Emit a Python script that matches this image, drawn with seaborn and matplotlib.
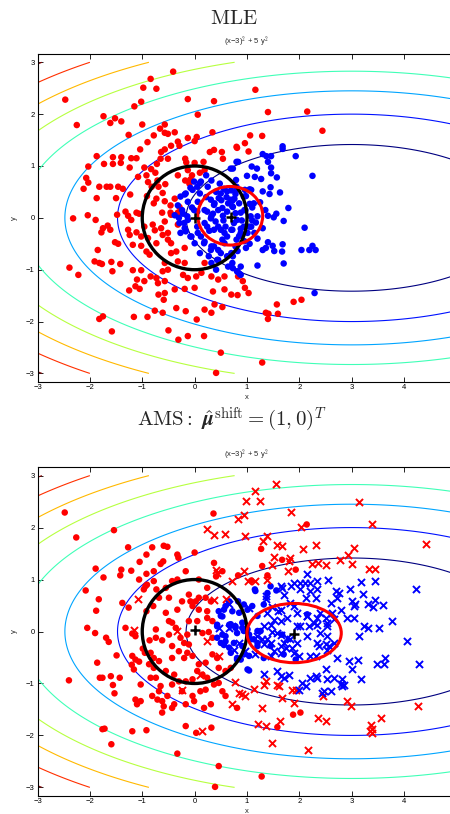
import numpy as np
import pandas as pd
import matplotlib
matplotlib.use("Agg")
import matplotlib.pyplot as plt
import seaborn as sns
from matplotlib.patches import Ellipse

# ---------------- data ----------------
contour_levels = [10, 20, 30, 40, 50, 60, 70, 80]
xticks = [-3, -2, -1, 0, 1, 2, 3, 4]
yticks = [-3, -2, -1, 0, 1, 2, 3]

top_red = [
(-2.47,2.28),(-2.25,1.79),(-1.74,1.96),(-1.61,1.83),(-1.52,1.92),(-1.40,1.86),(-1.26,1.60),(-1.15,2.15),(-1.02,2.24),(-0.98,2.51),(-0.84,2.68),(-0.73,2.49),(-0.41,2.82),(-0.13,2.29),(0.06,1.99),(0.37,2.25),
(-1.00,1.80),(-0.57,1.80),(-0.66,1.72),(-0.57,1.64),(-0.51,1.62),(-0.78,1.59),(-0.90,1.46),(-0.38,1.65),(-0.32,1.47),(-0.29,1.39),(-0.13,1.54),(0.00,1.48),(0.04,1.56),(0.34,1.65),
(-1.04,1.32),(-1.11,1.15),(-1.87,1.19),(-2.03,0.99),(-2.07,0.77),(-2.03,0.68),(-2.12,0.56),(-1.87,0.38),(-1.82,0.60),(-1.73,1.04),(-1.56,1.17),(-1.56,1.04),(-1.40,1.17),(-1.41,1.06),(-1.21,1.15),(-1.24,0.97),(-0.96,0.97),(-0.72,1.04),(-0.83,0.94),(-0.64,1.27),(-0.57,1.32),(-0.65,1.14),(-0.51,1.14),(-0.45,1.39),(-0.18,1.14),(-0.16,1.07),(0.00,1.06),(0.17,1.08),(0.29,1.27),(0.37,1.31),(0.52,1.27),(0.54,1.14),(0.81,1.35),
(-1.61,0.60),(-1.68,0.60),(-1.46,0.60),(-1.37,0.56),(-1.23,0.45),(-1.50,0.38),(-1.08,0.79),(-0.92,0.82),(-0.89,0.69),(-0.75,0.87),(-0.71,0.72),(-0.69,0.60),(-0.56,0.65),(-0.61,0.48),(-0.82,0.60),(-0.91,0.42),(-0.73,0.37),(-0.57,0.32),(-0.38,0.37),(-0.46,0.24),(-0.29,0.21),(-0.32,0.82),(-0.18,0.72),(-0.08,0.74),(-0.05,0.82),(0.10,0.87),(0.19,0.92),(-0.13,0.92),(-0.10,0.66),
(-1.27,0.04),(-1.06,0.08),(-0.78,0.28),(-0.62,0.10),(-0.46,0.10),(-1.32,0.12),(-2.04,0.05),(-2.32,-0.01),(-0.32,0.10),
(1.16,2.47),(1.40,2.04),(2.15,2.05),(2.44,1.68),(1.06,1.59),(1.29,1.58),(0.80,1.37),(0.96,1.44),(1.03,1.28),
(-1.89,-0.04),(-1.66,-0.15),(-1.75,-0.20),(-1.78,-0.28),(-1.61,-0.23),(-1.48,0.06),(-1.21,-0.04),(-1.11,0.10),(-1.27,-0.23),(-1.11,-0.28),(-1.24,-0.33),(-1.52,-0.47),(-1.46,-0.50),(-1.85,-0.62),(-1.18,-0.52),(-1.02,-0.54),(-0.92,-0.65),(-0.86,-0.71),(-0.96,-0.17),(-0.80,-0.13),(-0.76,-0.24),(-0.64,-0.20),(-0.61,-0.33),(-0.51,-0.29),(-0.51,-0.42),(-0.45,-0.49),(-0.57,-0.07),(-0.45,0.06),(-0.32,-0.13),(-0.73,-0.49),(-1.02,-0.36),(-0.89,-0.39),
(-1.91,-0.84),(-1.82,-0.87),(-1.77,-0.89),(-1.59,-0.85),(-1.42,-0.89),(-2.39,-0.96),(-2.22,-1.10),(-1.57,-1.03),(-1.18,-1.01),(-1.02,-1.01),(-1.10,-1.19),(-0.96,-1.22),(-1.13,-1.32),(-1.05,-1.37),(-1.25,-1.40),(-0.84,-1.13),(-0.73,-1.16),(-0.70,-1.26),(-0.57,-1.22),(-0.69,-1.48),(-0.59,-1.58),(-0.57,-1.45),(-0.38,-1.38),(-0.19,-1.37),(0.00,-1.35),(-0.35,-1.74),(-0.17,-1.80),(0.04,-1.96),(0.19,-1.77),(0.32,-1.83),(-1.16,-1.91),(-0.90,-1.91),(-0.76,-1.79),(-0.61,-1.83),(-1.82,-1.95),(-1.75,-1.90),(-1.58,-2.19),(-0.50,-2.17),(-0.31,-2.35),(-0.13,-2.28),(0.18,-2.28),(0.50,-2.60),(0.41,-2.99),(0.38,-1.67),(0.53,-1.72),(0.32,-1.13),(0.45,-1.19),(0.57,-1.13),(0.83,-1.13),(0.03,-1.13),(0.13,-1.06),(0.19,-0.87),(-0.32,-0.84),(-0.19,-0.87),(-0.57,-0.87),(-0.45,-0.68),(-0.19,-0.58),(-0.35,-0.65),(-0.61,-1.03),(-0.51,-1.00),(-0.22,-1.10),(-0.13,-1.16),(0.35,-1.42),(0.70,-1.48),(0.57,-1.38),
(0.92,-1.22),(0.96,-1.35),(1.03,-1.45),(0.82,-1.49),(1.57,-1.67),(1.89,-1.62),(2.04,-1.58),(1.36,-1.83),(1.41,-1.85),(1.40,-1.95),(1.59,-1.85),(1.29,-2.79),
]

top_blue = [
(-0.19,0.45),(-0.08,0.58),(0.10,0.67),(0.22,0.82),(0.32,0.72),(0.48,0.66),(0.56,0.56),(0.70,0.53),(0.80,0.60),(0.69,0.95),(0.80,1.08),(0.10,0.47),(0.22,0.40),(0.38,0.28),(0.51,0.34),(0.64,0.28),(0.73,0.21),(0.19,0.15),(0.35,0.08),(0.45,0.15),(0.54,0.04),(0.06,0.31),(-0.13,0.31),(-0.32,0.24),(-0.22,0.08),(-0.38,0.05),(0.25,0.60),(0.41,0.50),(0.61,0.40),(0.76,0.37),
(1.68,1.38),(1.68,1.33),(1.93,1.19),(1.30,1.23),(1.37,1.19),(1.46,1.19),(0.83,1.08),(1.40,1.08),(1.09,0.99),(1.19,0.95),(1.46,0.97),(0.73,0.95),(1.46,0.86),(1.57,0.78),(1.00,0.81),(1.15,0.79),(1.27,0.75),(2.25,0.81),(0.79,0.73),(1.05,0.55),(1.08,0.54),(0.96,0.54),(1.45,0.59),(1.30,0.51),(1.43,0.46),(1.63,0.49),(0.78,0.46),(0.98,0.42),(0.72,0.33),(1.05,0.27),(1.79,0.19),(1.56,0.08),(1.40,0.04),(1.51,0.01),(1.20,0.03),
(1.70,-0.06),(2.10,-0.19),(1.17,-0.09),(1.08,-0.17),(0.88,-0.21),(1.01,-0.29),(1.14,-0.29),(1.40,-0.47),(1.49,-0.54),(1.52,-0.64),(1.67,-0.65),(1.68,-0.51),(1.30,-0.62),(1.36,-0.58),(2.04,-0.62),(2.19,-0.62),(2.25,-0.54),(2.31,-0.62),(0.98,-0.58),(0.82,-0.64),(0.73,-0.74),(1.20,-0.92),(1.70,-0.88),(0.88,-0.94),(0.82,-1.04),(0.86,-1.08),(0.73,-0.97),(2.29,-1.45),
(-0.29,-0.10),(-0.19,-0.20),(-0.13,-0.04),(-0.06,-0.36),(0.00,-0.49),(0.06,-0.29),(0.19,-0.46),(0.32,-0.55),(0.45,-0.62),(0.57,-0.49),(0.70,-0.68),(0.45,-0.81),(0.64,-0.94),(0.32,-0.87),(0.19,-0.10),(0.32,0.03),(0.45,-0.17),(0.57,-0.29),(0.70,-0.23),(0.80,-0.42),(0.41,-1.00),(0.10,-0.68),
(0.75,-0.10),(0.85,-0.35),(0.95,-0.45),(1.05,-0.50),(0.90,-0.05),(0.78,-0.55),(1.20,-0.40),(1.30,-0.20),(1.10,-0.05),(0.95,0.15),(1.10,0.20),(1.25,0.30),(1.35,0.15),(0.55,-0.05),(0.62,0.12),(0.28,-0.25),(0.05,0.12),(-0.05,0.20),(0.88,0.10),
(0.31,0.35),(0.37,0.25),(0.46,0.38),(0.53,0.19),(0.24,0.12),(0.31,-0.01),(0.40,-0.07),(0.50,-0.23),(0.59,-0.17),(0.69,0.35),(0.72,0.22),(0.78,0.09),(0.81,-0.04),(0.72,-0.23),(0.62,-0.36),(0.53,-0.42),(0.37,-0.23),(0.24,-0.17),(0.88,-0.29),(0.94,-0.17),(0.85,0.28),(0.94,0.41),(0.78,0.51),(0.62,0.51),(0.50,0.47),(0.97,0.15),(1.07,0.03),(1.04,-0.17),(1.13,0.28),
(-0.27,0.41),(-0.17,0.47),(-0.04,0.54),(0.05,0.60),(0.12,0.70),(-0.01,0.70),(-0.14,0.03),(-0.20,-0.10),(-0.17,-0.26),(-0.08,-0.36),(-0.27,-0.29),(-0.30,0.00),(-0.24,0.15),(-0.01,0.15),(0.05,-0.17),(0.12,-0.36),(0.18,-0.49),(0.31,-0.62),(0.37,-0.55),(0.50,-0.68),(0.62,-0.74),(0.72,-0.87),(0.81,-1.03),(0.88,-1.10),(0.43,-0.81),(0.27,-0.74),
]

bot_red_dot = [
(-2.48,2.29),(-2.26,1.81),(-1.54,1.95),(0.36,2.27),(-1.27,1.62),(-0.81,1.62),(-0.59,1.65),(-0.52,1.63),(-0.33,1.48),(-0.31,1.42),(0.00,1.52),(-0.92,1.48),(-1.05,1.34),(-0.65,1.30),(-0.60,1.35),(-1.89,1.21),(-1.74,1.04),(-1.40,1.19),(-1.42,1.08),(-1.21,1.17),(-2.08,0.79),(-1.83,0.62),(-1.88,0.40),(-2.05,0.07),(-1.90,-0.03),
(-1.38,0.55),(-1.26,0.46),(-1.32,0.07),(-1.06,1.00),(-0.92,1.11),(-0.78,1.16),(-0.91,0.90),(-0.78,0.97),(-0.97,0.81),(-0.94,0.87),(-0.73,0.81),(-0.55,0.84),(-0.43,0.97),(-0.33,1.00),(-0.17,1.16),(0.08,1.00),(0.24,0.84),(0.37,1.32),(0.41,1.06),(0.53,1.16),(-0.49,0.65),(-0.68,0.65),(-0.79,0.49),(-0.92,0.39),(-0.55,0.36),(-0.33,0.42),(-0.24,0.58),(-0.11,0.71),(-0.08,0.58),(0.02,0.58),(0.08,0.65),(-0.04,0.49),(0.08,0.42),(0.21,0.65),(0.31,0.58),(0.24,0.39),(-0.49,0.20),(-0.43,0.17),(-0.36,0.07),(-0.74,0.04),(-0.11,0.20),(0.05,0.20),(0.24,0.26),(0.34,0.20),
(2.14,2.06),(1.27,1.59),(1.67,1.38),(1.29,1.26),(1.93,1.19),(0.83,1.08),(1.39,1.08),(1.08,0.98),
(-1.69,-0.12),(-1.64,-0.20),(-1.86,-0.60),(-1.49,-0.46),(-2.40,-0.94),(-1.81,-0.89),(-1.76,-0.89),(-1.60,-0.86),(-1.56,-1.03),(-1.43,-0.89),(-1.53,-1.19),(-1.19,-0.04),(-1.13,-0.09),(-1.19,-0.47),(-1.13,-0.54),(-1.06,-0.58),(-1.20,-0.64),(-1.16,-0.73),(-0.86,-0.17),(-0.74,-0.12),(-0.62,-0.17),(-0.49,-0.06),(-0.99,-0.33),(-0.95,-0.41),(-0.84,-0.41),(-0.78,-0.51),(-0.68,-0.57),(-0.87,-0.63),(-0.78,-0.70),(-0.84,-0.89),(-1.03,-1.02),(-1.13,-1.31),(-1.10,-1.40),(-1.03,-1.34),(-1.19,-1.92),(-0.92,-1.90),(-1.76,-1.88),(-1.72,-1.87),(-1.59,-2.17),(-0.62,-1.56),(-0.59,-1.44),(-0.62,-1.34),(-0.68,-1.15),(-0.52,-1.24),(-0.39,-1.40),(-0.43,-1.47),(-0.17,-1.40),(-0.01,-1.34),(0.18,-1.47),(0.31,-1.40),(-0.33,-2.35),(-0.17,-1.82),(0.03,-1.95),(0.32,-1.85),(0.46,-2.59),(0.39,-2.99),(-0.43,-0.28),(-0.30,-0.38),(-0.43,-0.51),(-0.20,-0.51),(-0.04,-0.47),(-0.14,-0.41),(-0.55,-0.76),(-0.39,-0.83),(-0.30,-0.96),(-0.17,-0.96),(-0.04,-0.92),(0.05,-0.76),(0.15,-0.83),(0.24,-0.89),(0.08,-0.63),(0.21,-0.60),(0.34,-0.44),(0.43,-0.51),(0.46,-0.70),(0.59,-0.76),(0.37,-1.02),(0.46,-0.99),(0.21,-1.12),(0.11,-1.15),(0.53,-1.15),(0.59,-1.24),(-0.27,-0.12),(-0.14,-0.06),(0.15,-0.03),(0.27,-0.01),(0.34,-0.12),(-0.20,-0.22),(-0.11,-0.25),(-0.43,-1.02),(-0.24,-1.15),(-0.04,-1.24),(-0.74,-0.89),(-0.65,-1.05),(-0.81,-1.24),(-0.71,-1.31),
(0.69,-0.70),(0.81,-1.47),(1.88,-1.60),(2.02,-1.56),(1.58,-1.84),(1.28,-2.79),
]

bot_red_x = [
(0.24,1.98),(0.37,1.85),(0.58,1.88),(0.40,1.19),(0.43,1.13),(0.72,0.97),(-1.08,0.63),(0.37,0.60),(0.59,0.63),(-1.15,0.02),(-0.33,0.01),
(1.56,2.84),(1.15,2.71),(0.99,2.52),(1.25,2.51),(3.14,2.49),(1.84,2.30),(0.83,2.17),(0.95,2.25),(2.04,2.01),(3.38,2.06),(0.97,1.83),(1.39,1.83),(1.30,1.74),(1.58,1.67),(1.67,1.64),(2.31,1.67),(2.07,1.59),(3.04,1.60),(4.41,1.69),(1.51,1.44),(1.83,1.42),(1.80,1.35),(1.48,1.28),(2.25,1.29),(2.35,1.32),(2.50,1.28),(2.77,1.37),(2.93,1.47),(3.00,1.29),(1.78,1.17),(3.33,1.21),(3.44,1.21),(0.94,1.17),(1.01,0.98),(1.15,0.98),(1.39,1.00),
(0.24,-0.19),(0.46,-0.47),(0.15,-1.92),(-0.24,-1.12),(0.11,-0.83),(0.72,-1.40),(0.85,-1.18),(0.78,-0.97),
(0.91,-1.21),(0.97,-1.24),(1.13,-1.10),(1.32,-1.02),(1.36,-0.96),(1.58,-1.02),(1.61,-1.05),(1.86,-1.12),(1.93,-1.13),(1.90,-1.38),(1.66,-1.28),(1.29,-1.47),(2.46,-1.24),(2.91,-1.34),(2.99,-1.44),(2.36,-1.67),(2.51,-1.72),(1.63,-1.72),(1.21,-1.78),(1.37,-1.82),(3.55,-1.66),(3.36,-1.80),(3.39,-1.87),(3.35,-1.92),(3.38,-1.95),(4.26,-1.44),(1.48,-2.15),(2.16,-2.28),
]

bot_blue_dot = [
(0.46,0.39),(0.59,0.49),(0.66,0.58),(0.53,0.29),(0.43,0.13),(0.66,0.13),(0.78,0.07),
(1.15,0.81),(1.45,0.87),(1.56,0.79),(1.32,0.52),(0.83,0.58),(0.94,0.52),(0.85,0.36),(0.91,0.07),(0.78,0.10),(1.20,0.01),(0.72,0.39),(2.15,0.33),
(0.43,-0.12),(0.53,-0.06),(0.59,-0.19),(0.56,-0.26),(0.50,-0.22),(0.66,-0.31),(0.81,-0.54),
(0.94,0.01),(1.04,-0.06),(1.13,-0.15),(1.20,-0.22),(1.32,-0.51),(1.04,-0.75),(0.81,-0.51),(0.94,-0.44),(1.67,-0.06),(1.45,-0.28),(1.70,-0.44),(1.93,-0.54),
(1.01,0.42),(1.10,0.49),(1.20,0.30),(0.91,0.17),(1.01,0.04),(0.81,-0.03),(0.69,0.14),(0.56,0.42),(0.50,0.30),(0.43,0.10),(0.59,-0.09),(0.75,-0.22),(0.91,-0.28),(1.07,-0.15),(1.20,-0.28),(1.04,-0.47),(0.88,-0.54),(0.69,-0.41),(1.26,0.01),(1.16,0.78),(1.39,0.74),(1.01,-0.73),
]

bot_blue_x = [
(0.46,0.07),(0.66,0.52),(0.72,0.10),(0.66,0.07),(0.75,-0.35),
(2.15,1.11),(2.55,0.99),(3.45,0.98),(3.18,0.95),(1.90,0.94),(2.01,0.94),(2.10,0.94),(2.21,0.94),(2.34,0.97),(1.64,0.88),(1.67,0.84),(1.84,0.88),(2.02,0.81),(2.21,0.78),(2.33,0.81),(2.69,0.78),(2.75,0.74),(2.96,0.82),(3.22,0.72),(4.23,0.82),(1.37,0.69),(1.36,0.62),(1.70,0.71),(2.12,0.65),(2.31,0.65),(2.72,0.65),(2.60,0.55),(3.44,0.60),(3.31,0.53),(3.41,0.47),(3.60,0.51),(3.01,0.58),(3.07,0.53),(3.04,0.49),(1.04,0.46),(1.48,0.47),(1.60,0.39),(1.82,0.55),(1.90,0.49),(2.15,0.29),(2.33,0.26),(2.50,0.26),(2.63,0.36),(2.79,0.42),(2.66,0.25),(2.91,0.26),(3.04,0.26),(3.77,0.20),(3.31,0.07),(3.52,0.07),(3.23,0.10),(1.45,0.13),(1.64,0.20),(2.18,0.10),(2.34,0.13),(2.53,0.17),(1.96,0.10),
(1.48,-0.01),(1.29,-0.15),(1.45,-0.22),(1.64,-0.28),(1.51,-0.38),(1.83,-0.15),(1.86,-0.31),(1.74,-0.31),(1.99,-0.47),(2.31,-0.47),(2.53,-0.09),(2.37,-0.28),(2.50,-0.25),(2.56,-0.28),(3.14,-0.09),(4.06,-0.19),(2.71,-0.51),(2.95,-0.56),(3.11,-0.54),(3.01,-0.73),(3.49,-0.63),(3.61,-0.63),(3.64,-0.51),(4.28,-0.62),(3.18,-0.91),(1.32,-0.81),(1.58,-0.76),(1.64,-0.86),(1.70,-0.89),(1.80,-0.83),(2.05,-0.99),(2.12,-1.05),(1.99,-1.12),(2.21,-0.89),(2.31,-0.86),(2.34,-0.89),(2.50,-0.73),(2.53,-0.92),(2.66,-0.89),(2.82,-0.92),(2.82,-1.05),(2.85,-1.02),(2.79,-1.01),(2.47,-1.15),(2.60,-1.15),(2.44,-1.18),(0.85,-0.22),(0.97,-0.38),(1.32,-0.25),(1.16,-0.44),(1.64,-0.06),(1.77,-0.12),
(1.39,0.36),(1.51,0.23),(1.64,0.42),(1.77,0.26),(1.96,0.36),(2.15,0.29),(2.28,0.17),(2.40,0.36),(2.53,0.10),(1.20,-0.09),(1.39,-0.15),(1.58,-0.03),(1.70,-0.22),(1.96,-0.22),(2.15,-0.09),(2.34,-0.22),(2.53,-0.35),(2.66,-0.22),(1.64,-0.41),(1.90,-0.41),(1.45,-0.47),(1.32,0.10),(2.02,0.10),(2.40,-0.03),(2.21,-0.47),
]

# circle / ellipse / centre markers: (cx, cy, width, height)
top_shapes = {"black": (0.0, 0.0, 2.0, 2.0), "red": (0.68, 0.04, 1.24, 1.13)}
bot_shapes = {"black": (0.0, 0.0, 2.0, 2.0), "red": (1.90, -0.03, 1.80, 1.14)}
top_centres = [(0.0, 0.0), (0.69, 0.02)]
bot_centres = [(0.0, 0.02), (1.90, -0.04)]

# ---------------- style ----------------
sns.set_theme(style="white")
plt.rcParams['font.family'] = ['Liberation Sans', 'DejaVu Sans']
plt.rcParams['mathtext.fontset'] = 'cm'

W, H = 450, 814
fig = plt.figure(figsize=(W / 100, H / 100), dpi=100)
fig.patch.set_facecolor('white')

def df(pts):
    return pd.DataFrame(pts, columns=["x", "y"])

gx, gy = np.meshgrid(np.linspace(-3, 5, 401), np.linspace(-3, 3, 301))
gz = (gx - 3) ** 2 + 5 * gy ** 2

def panel(ax, dots, crosses, shapes, centres):
    ax.contour(gx, gy, gz, levels=contour_levels, cmap='jet', vmin=10, vmax=80,
               linewidths=0.8, zorder=1)
    for pts, col in dots:
        sns.scatterplot(data=df(pts), x="x", y="y", color=col, s=22, linewidth=0,
                        edgecolor='none', ax=ax, zorder=3)
    for pts, col in crosses:
        sns.scatterplot(data=df(pts), x="x", y="y", color=col, marker='x', s=26,
                        linewidth=1.4, ax=ax, zorder=3)
    cx, cy, w, h = shapes["black"]
    ax.add_patch(Ellipse((cx, cy), w, h, fill=False, ec='black', lw=2.4, zorder=4))
    cx, cy, w, h = shapes["red"]
    ax.add_patch(Ellipse((cx, cy), w, h, fill=False, ec='red', lw=2.2, zorder=4))
    sns.scatterplot(data=df(centres), x="x", y="y", color='black', marker='+', s=60,
                    linewidth=1.8, ax=ax, zorder=5)
    ax.set_xlim(-3, 5)
    ax.set_ylim(-3.16, 3.16)
    ax.set_xticks(xticks)
    ax.set_yticks(yticks)
    ax.set_xticklabels([f"{t}".replace('-', '\u2212') for t in xticks])
    ax.set_yticklabels([f"{t}".replace('-', '\u2212') for t in yticks])
    ax.tick_params(direction='in', length=3.5, width=0.6, labelsize=5.5, pad=2,
                   top=True, right=True, bottom=True, left=True, colors='black')
    ax.set_xlabel("x", fontsize=5.5, labelpad=1.5)
    ax.set_ylabel("y", fontsize=5.5, labelpad=6)
    for s in ax.spines.values():
        s.set_visible(True)
        s.set_color('black')
        s.set_linewidth(0.8)
    ax.set_facecolor('white')
    ax.grid(False)

ax1 = fig.add_axes([37.5 / W, 1 - 381.7 / H, 419 / W, 327.7 / H])
panel(ax1, [(top_red, 'red'), (top_blue, 'blue')], [], top_shapes, top_centres)

ax2 = fig.add_axes([37.5 / W, 1 - 795.7 / H, 419 / W, 328.4 / H])
panel(ax2, [(bot_red_dot, 'red'), (bot_blue_dot, 'blue')],
      [(bot_red_x, 'red'), (bot_blue_x, 'blue')], bot_shapes, bot_centres)

fig.text(234 / W, 1 - 19 / H, r"$\mathrm{MLE}$", ha='center', va='center', fontsize=15)
fig.text(246 / W, 1 - 42 / H, "(x\u22123)$^2$ + 5 y$^2$", ha='center', va='center', fontsize=5.5)
fig.text(232 / W, 1 - 420 / H, r"$\mathrm{AMS{:}}\ \hat{\boldsymbol{\mu}}^{\mathrm{shift}} = (1,0)^T$",
         ha='center', va='center', fontsize=15)
fig.text(246 / W, 1 - 455 / H, "(x\u22123)$^2$ + 5 y$^2$", ha='center', va='center', fontsize=5.5)

fig.savefig("out.png", dpi=100, facecolor='white')
